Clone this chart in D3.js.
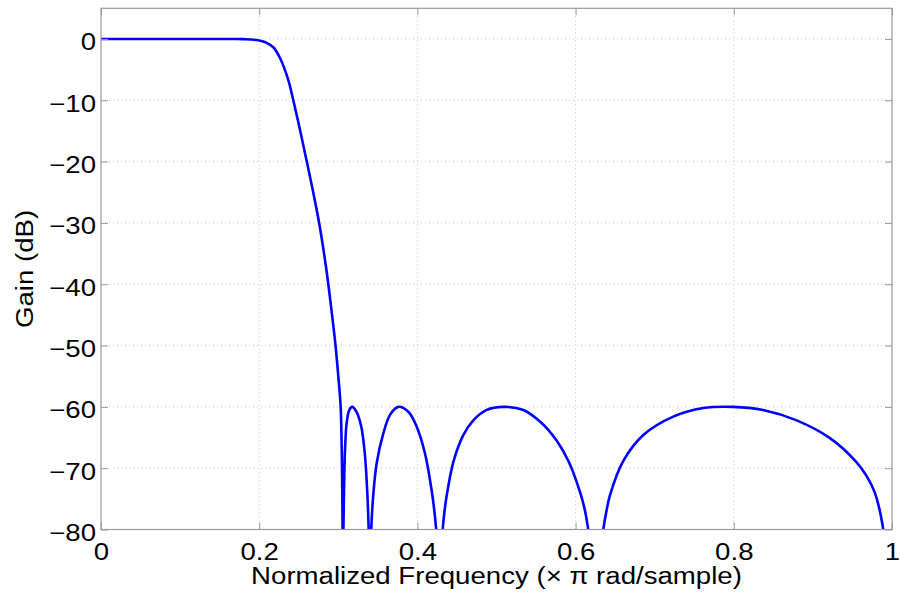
<!DOCTYPE html>
<html>
<head>
<meta charset="utf-8">
<script src="https://cdn.jsdelivr.net/npm/d3@7"></script>
<style>
  body { margin: 0; background: #fff; }
  text { font-family: "Liberation Sans", Arial, Helvetica, sans-serif; fill: #000; }
</style>
</head>
<body>
<svg id="chart"></svg>
<script>
// normalized frequency (x pi rad/sample) and gain in dB
// (-Infinity marks the notches, where the response drops off the chart)
const freq = [
  0, 0.05, 0.10, 0.15, 0.17, 0.18, 0.19, 0.20, 0.205, 0.21, 0.2178, 0.2263, 0.2368,
  0.2431, 0.2519, 0.2602, 0.2683, 0.2758, 0.2820, 0.2874, 0.2921, 0.2965, 0.3000,
  0.3030, 0.3042, 0.3049, 0.3054,
  0.3059,
  0.3065, 0.3072, 0.3085, 0.3106, 0.3140, 0.3177, 0.3230, 0.3290, 0.3335, 0.3365, 0.3375, 0.3384,
  0.3395,
  0.3416, 0.3440, 0.3485, 0.3570, 0.3654, 0.3759, 0.3885, 0.3990, 0.4096, 0.4180, 0.4210, 0.4238,
  0.4280,
  0.4320, 0.4340, 0.4370, 0.4454, 0.4580, 0.4707, 0.4876, 0.5086, 0.5340, 0.5550, 0.5760,
  0.5915, 0.6056, 0.6115, 0.6160,
  0.6250,
  0.6350, 0.6390, 0.6435, 0.6600, 0.6856, 0.7235, 0.7614, 0.7990, 0.8370, 0.8795,
  0.9216, 0.9550, 0.9680, 0.9780, 0.9840, 0.9890,
  1.0
];
const gainDb = [
  0, 0, 0, 0, -0.01, -0.03, -0.08, -0.25, -0.42, -0.68, -1.35, -3.1, -6.7,
  -10, -15, -20, -25, -30, -35, -40, -45, -50, -55,
  -60, -66, -72, -80,
  -Infinity,
  -80, -74, -67, -62.6, -60.5, -60, -60.8, -63.2, -67.6, -73.6, -76.5, -80,
  -Infinity,
  -80, -74.7, -69.2, -64.3, -61.3, -60, -60.8, -63.2, -67.6, -73.6, -76.5, -80,
  -Infinity,
  -80, -77.3, -74.5, -69, -64.6, -62.2, -60.5, -60, -60.5, -62.4, -65.5,
  -69, -73.9, -76.7, -80,
  -Infinity,
  -80, -77, -74.4, -68.9, -64.6, -61.6, -60.2, -60, -60.5, -62.2,
  -65.1, -69, -71.3, -73.9, -76.6, -80,
  -Infinity
];
const xTicks = [0, 0.2, 0.4, 0.6, 0.8, 1];
const yTicks = [0, -10, -20, -30, -40, -50, -60, -70, -80];

const W = 900, H = 593;
const margin = { top: 8.3, right: 8, bottom: 63.5, left: 101 };
const width = W - margin.left - margin.right;
const height = H - margin.top - margin.bottom;
const fontSize = 23;
const stretch = 1.2;
const axisColor = "#9a9a9a";

const svg = d3.select("#chart")
    .attr("width", W)
    .attr("height", H);

const g = svg.append("g")
    .attr("transform", `translate(${margin.left},${margin.top})`);

const x = d3.scaleLinear().domain([0, 1]).range([0, width]);
const y = d3.scaleLinear().domain([-80, 5]).range([height, 0]);

// dotted grid
g.append("g").selectAll("line")
    .data(xTicks.filter(d => d > 0 && d < 1))
    .join("line")
    .attr("x1", d => x(d)).attr("x2", d => x(d))
    .attr("y1", 0).attr("y2", height)
    .attr("stroke", "#c8c8c8")
    .attr("stroke-dasharray", "1,3");

g.append("g").selectAll("line")
    .data(yTicks.filter(d => d > -80))
    .join("line")
    .attr("x1", 0).attr("x2", width)
    .attr("y1", d => y(d)).attr("y2", d => y(d))
    .attr("stroke", "#c8c8c8")
    .attr("stroke-dasharray", "1,3");

// curve, clipped to the plot box
g.append("clipPath").attr("id", "clip")
    .append("rect").attr("width", width).attr("height", height);

const points = freq.map((f, i) => [f, gainDb[i]]);
const line = d3.line()
    .defined(d => isFinite(d[1]))
    .x(d => x(d[0]))
    .y(d => y(d[1]))
    .curve(d3.curveCatmullRom.alpha(0.5));

g.append("path")
    .datum(points)
    .attr("clip-path", "url(#clip)")
    .attr("fill", "none")
    .attr("stroke", "#0000ff")
    .attr("stroke-width", 2.6)
    .attr("stroke-linejoin", "round")
    .attr("d", line);

// axes: inward ticks on all four sides
const tickLen = 7;
const xAxisB = d3.axisBottom(x).tickValues(xTicks).tickSizeInner(-tickLen).tickSizeOuter(0).tickFormat(d3.format("~g"));
const xAxisT = d3.axisTop(x).tickValues(xTicks).tickSizeInner(-tickLen).tickSizeOuter(0).tickFormat("");
const yAxisL = d3.axisLeft(y).tickValues(yTicks).tickSizeInner(-tickLen).tickSizeOuter(0).tickFormat(d3.format("d"));
const yAxisR = d3.axisRight(y).tickValues(yTicks).tickSizeInner(-tickLen).tickSizeOuter(0).tickFormat("");

const gx = g.append("g").attr("transform", `translate(0,${height})`).call(xAxisB);
g.append("g").call(xAxisT);
const gy = g.append("g").call(yAxisL);
g.append("g").attr("transform", `translate(${width},0)`).call(yAxisR);

g.selectAll(".domain").remove();
g.selectAll(".tick line").attr("stroke", axisColor);

g.append("rect")
    .attr("width", width).attr("height", height)
    .attr("fill", "none")
    .attr("stroke", axisColor)
    .attr("stroke-width", 1.2);

gx.selectAll(".tick text")
    .attr("y", 30.5).attr("dy", null)
    .style("font-size", fontSize + "px");

gy.selectAll(".tick text")
    .attr("x", -5).attr("dy", null).attr("y", 11)
    .style("font-size", fontSize + "px");

// axis titles
svg.append("text")
    .attr("x", margin.left + width / 2)
    .attr("y", 584)
    .attr("text-anchor", "middle")
    .style("font-size", fontSize + "px")
    .text("Normalized Frequency (\u00d7 \u03c0 rad/sample)");

svg.append("text")
    .attr("transform", `translate(33,${margin.top + height / 2}) rotate(-90)`)
    .attr("text-anchor", "middle")
    .style("font-size", fontSize + "px")
    .text("Gain (dB)");

// the reference font runs wider than Liberation Sans; widen every label a bit
svg.selectAll("text").each(function () {
    const len = this.getComputedTextLength();
    if (len > 0) {
        d3.select(this)
            .attr("textLength", len * stretch)
            .attr("lengthAdjust", "spacingAndGlyphs");
    }
});
</script>
</body>
</html>
